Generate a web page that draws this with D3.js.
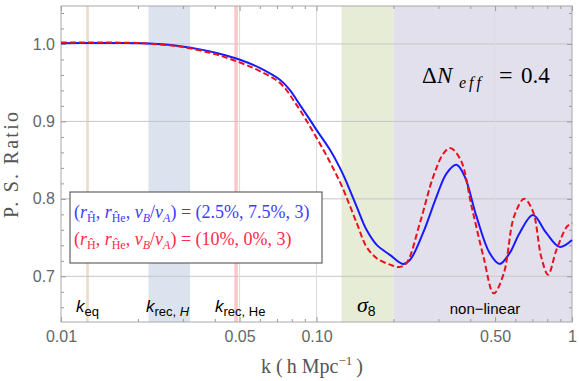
<!DOCTYPE html>
<html>
<head>
<meta charset="utf-8">
<script src="https://cdn.jsdelivr.net/npm/d3@7"></script>
<style>
  body { margin: 0; background: #fff; }
  svg { display: block; }
</style>
</head>
<body>
<div id="my_dataviz"></div>
<script>
// blue solid curve: (r_H, r_He, vB/vA) = (2.5%, 7.5%, 3)
var kBlue = [0.01, 0.013, 0.017, 0.021, 0.025, 0.0293, 0.035, 0.041, 0.0502, 0.0602, 0.0719, 0.0786,
  0.0861, 0.0943, 0.1, 0.1129, 0.1235, 0.129, 0.1436, 0.157, 0.172, 0.1937, 0.218, 0.232, 0.261, 0.295,
  0.323, 0.353, 0.38, 0.423, 0.476, 0.521, 0.57, 0.624, 0.703, 0.793, 0.894, 1.0];
var ratioBlue = [1.001, 1.0012, 1.0013, 1.001, 0.9995, 0.997, 0.993, 0.988, 0.9796, 0.9688, 0.9537, 0.9408,
  0.9214, 0.902, 0.889, 0.8633, 0.840, 0.8267, 0.79, 0.76, 0.7406, 0.7277, 0.716, 0.721, 0.7557, 0.803,
  0.833, 0.844, 0.829, 0.777, 0.73, 0.716, 0.73, 0.756, 0.779, 0.756, 0.738, 0.747];

// red dashed curve: (r_H, r_He, vB/vA) = (10%, 0%, 3)
var kRed = [0.01, 0.015, 0.02, 0.025, 0.03, 0.04, 0.0502, 0.06, 0.072, 0.0837, 0.0972, 0.111, 0.1254, 0.1436,
  0.157, 0.172, 0.194, 0.211, 0.225, 0.254, 0.2866, 0.3146, 0.3346, 0.367, 0.4047, 0.4505, 0.4941, 0.541,
  0.593, 0.65, 0.703, 0.758, 0.806, 0.869, 0.955, 1.0];
var ratioRed = [1.002, 1.0018, 1.0012, 0.999, 0.996, 0.987, 0.976, 0.965, 0.9495, 0.921, 0.886, 0.852, 0.817, 0.769,
  0.738, 0.7234, 0.715, 0.712, 0.717, 0.769, 0.829, 0.859, 0.8655, 0.85, 0.79, 0.725, 0.678, 0.704,
  0.777, 0.8, 0.784, 0.725, 0.702, 0.734, 0.764, 0.769];

// shaded scale ranges
var bandNames = ["eq", "recH", "recHe", "sigma8", "nonlinear"];
var bandFrom = [0.01255, 0.022, 0.0477, 0.1254, 0.2];
var bandTo = [0.01285, 0.032, 0.0492, 0.2, 1.0];
var bandColors = ["#eadccb", "#dde3ee", "#fdc6c7", "#e7ecd6", "#e3e0ed"];

var xMajor = [0.01, 0.05, 0.1, 0.5, 1];
var xLabels = ["0.01", "0.05", "0.10", "0.50", "1"];
var xMinor = [0.02, 0.03, 0.04, 0.06, 0.07, 0.08, 0.09, 0.2, 0.3, 0.4, 0.6, 0.7, 0.8, 0.9];
var yMajor = [0.7, 0.8, 0.9, 1.0];
var yMinor = [0.66, 0.68, 0.72, 0.74, 0.76, 0.78, 0.82, 0.84, 0.86, 0.88, 0.92, 0.94, 0.96, 0.98, 1.02, 1.04];

var W = 579, H = 381;
var margin = { left: 61, right: 572, top: 6, bottom: 322 };

var svg = d3.select("#my_dataviz").append("svg")
  .attr("width", W).attr("height", H);

var x = d3.scaleLog().domain([0.01, 1]).range([margin.left, margin.right]);
var y = d3.scaleLinear().domain([0.641, 1.049]).range([margin.bottom, margin.top]);

// bands
svg.selectAll(".band").data(bandNames).enter().append("rect")
  .attr("class", "band")
  .attr("x", function (d, i) { return x(bandFrom[i]); })
  .attr("width", function (d, i) { return x(bandTo[i]) - x(bandFrom[i]); })
  .attr("y", margin.top).attr("height", margin.bottom - margin.top)
  .attr("fill", function (d, i) { return bandColors[i]; });

// grid lines
svg.selectAll(".hgrid").data(yMajor).enter().append("line")
  .attr("x1", margin.left).attr("x2", margin.right)
  .attr("y1", function (d) { return y(d); }).attr("y2", function (d) { return y(d); })
  .attr("stroke", "#c6c6c6").attr("stroke-width", 1);
svg.selectAll(".vgrid").data([0.05, 0.1, 0.5]).enter().append("line")
  .attr("y1", margin.top).attr("y2", margin.bottom)
  .attr("x1", function (d) { return x(d); }).attr("x2", function (d) { return x(d); })
  .attr("stroke", "#dcdcdc").attr("stroke-width", 1);

// axes (ticks pointing inwards, Mathematica style)
function styleAxis(g) {
  g.select(".domain").remove();
  g.selectAll(".tick line").attr("stroke", "#999");
  g.selectAll(".tick text").attr("fill", "#666")
    .style("font-family", "'Liberation Sans', Arial, sans-serif").style("font-size", "16px");
}

svg.append("g").attr("transform", "translate(0," + margin.bottom + ")")
  .call(d3.axisBottom(x).tickValues(xMajor).tickSize(-5).tickPadding(9)
    .tickFormat(function (d, i) { return xLabels[i]; }))
  .call(styleAxis);
svg.append("g").attr("transform", "translate(0," + margin.bottom + ")")
  .call(d3.axisBottom(x).tickValues(xMinor).tickSize(-3).tickFormat(""))
  .call(styleAxis);
svg.append("g").attr("transform", "translate(0," + margin.top + ")")
  .call(d3.axisTop(x).tickValues(xMajor).tickSize(-5).tickFormat(""))
  .call(styleAxis);
svg.append("g").attr("transform", "translate(0," + margin.top + ")")
  .call(d3.axisTop(x).tickValues(xMinor).tickSize(-3).tickFormat(""))
  .call(styleAxis);

svg.append("g").attr("transform", "translate(" + margin.left + ",0)")
  .call(d3.axisLeft(y).tickValues(yMajor).tickSize(-5).tickPadding(6).tickFormat(d3.format(".1f")))
  .call(styleAxis);
svg.append("g").attr("transform", "translate(" + margin.left + ",0)")
  .call(d3.axisLeft(y).tickValues(yMinor).tickSize(-3).tickFormat(""))
  .call(styleAxis);
svg.append("g").attr("transform", "translate(" + margin.right + ",0)")
  .call(d3.axisRight(y).tickValues(yMajor).tickSize(-5).tickFormat(""))
  .call(styleAxis);
svg.append("g").attr("transform", "translate(" + margin.right + ",0)")
  .call(d3.axisRight(y).tickValues(yMinor).tickSize(-3).tickFormat(""))
  .call(styleAxis);

// frame
svg.append("rect")
  .attr("x", margin.left).attr("y", margin.top)
  .attr("width", margin.right - margin.left).attr("height", margin.bottom - margin.top)
  .attr("fill", "none").attr("stroke", "#a8a8a8").attr("stroke-width", 1);

// band labels
var sans = "'Liberation Sans', Arial, sans-serif";
function kLabel(xpos, sub, subItalicTail) {
  var t = svg.append("text").attr("x", xpos).attr("y", 312)
    .style("font-family", sans).style("font-size", "17px").attr("fill", "#000");
  t.append("tspan").style("font-style", "italic").text("k");
  t.append("tspan").attr("dy", 4).style("font-size", "13px").text(sub);
  if (subItalicTail) {
    t.append("tspan").style("font-size", "13px").style("font-style", "italic").text(subItalicTail);
  }
}
kLabel(76, "eq");
kLabel(146, "rec, ", "H");
kLabel(215, "rec, He");

var sig = svg.append("text").attr("x", 357).attr("y", 312).attr("fill", "#000");
sig.append("tspan").style("font-family", "'Liberation Serif', serif").style("font-style", "italic")
  .style("font-size", "22px").text("σ");
sig.append("tspan").attr("dy", 4).style("font-family", sans).style("font-size", "14px").text("8");

svg.append("text").attr("x", 485).attr("y", 314).attr("text-anchor", "middle")
  .style("font-family", sans).style("font-size", "15px").attr("fill", "#000")
  .text("non\u2212linear");

// curves
var line = d3.line()
  .x(function (d) { return x(d[0]); })
  .y(function (d) { return y(d[1]); })
  .curve(d3.curveCatmullRom.alpha(0.5));

var blueData = kBlue.map(function (k, i) { return [k, ratioBlue[i]]; });
var redData = kRed.map(function (k, i) { return [k, ratioRed[i]]; });

svg.append("path").datum(blueData)
  .attr("fill", "none").attr("stroke", "#1a1aff").attr("stroke-width", 2)
  .attr("d", line);
svg.append("path").datum(redData)
  .attr("fill", "none").attr("stroke", "#e8121e").attr("stroke-width", 2)
  .attr("stroke-dasharray", "6,3")
  .attr("d", line);

// legend
svg.append("rect").attr("x", 70).attr("y", 192).attr("width", 252).attr("height", 71)
  .attr("fill", "#fff").attr("stroke", "#444").attr("stroke-width", 1);

var serif = "'Liberation Serif', 'Times New Roman', serif";
function legendLine(ypos, color, valuesText) {
  var t = svg.append("text").attr("x", 74).attr("y", ypos).attr("fill", color)
    .style("font-family", serif).style("font-size", "18px");
  t.append("tspan").text("(");
  t.append("tspan").style("font-style", "italic").text("r");
  t.append("tspan").attr("dy", 4).style("font-size", "12px").text("Ĥ");
  t.append("tspan").attr("dy", -4).text(", ");
  t.append("tspan").style("font-style", "italic").text("r");
  t.append("tspan").attr("dy", 4).style("font-size", "12px").text("Ĥe");
  t.append("tspan").attr("dy", -4).text(", ");
  t.append("tspan").style("font-style", "italic").text("v");
  t.append("tspan").attr("dy", 4).style("font-size", "12px").style("font-style", "italic").text("B");
  t.append("tspan").attr("dy", -4).text("/");
  t.append("tspan").style("font-style", "italic").text("v");
  t.append("tspan").attr("dy", 4).style("font-size", "12px").style("font-style", "italic").text("A");
  t.append("tspan").attr("dy", -4).text(") = " + valuesText);
}
legendLine(218, "#3d3dff", "(2.5%, 7.5%, 3)");
legendLine(245, "#ff2a4a", "(10%, 0%, 3)");

// Delta N_eff annotation
var dn = svg.append("text").attr("x", 422).attr("y", 83).attr("fill", "#000")
  .style("font-family", serif).style("font-size", "23px");
dn.append("tspan").text("Δ");
dn.append("tspan").attr("x", 437).style("font-style", "italic").text("N");
dn.append("tspan").attr("x", 459).attr("dy", 5).style("font-size", "16px").style("font-style", "italic")
  .attr("letter-spacing", 3).text("eff");
dn.append("tspan").attr("x", 499).attr("dy", -5).style("font-size", "24px").text("=");
dn.append("tspan").attr("x", 521).text("0.4");

// axis titles
var xl = svg.append("text").attr("x", 312).attr("y", 373).attr("text-anchor", "middle")
  .attr("fill", "#555").style("font-family", serif).style("font-size", "20px");
xl.append("tspan").text("k (\u2009h Mpc");
xl.append("tspan").attr("dy", -8).style("font-size", "13px").text("\u22121");
xl.append("tspan").attr("dy", 8).text("\u2009)");

svg.append("text")
  .attr("transform", "translate(18,165) rotate(-90)")
  .attr("text-anchor", "middle")
  .attr("fill", "#555").style("font-family", serif).style("font-size", "20px")
  .attr("textLength", 106)
  .text("P. S. Ratio");
</script>
</body>
</html>
